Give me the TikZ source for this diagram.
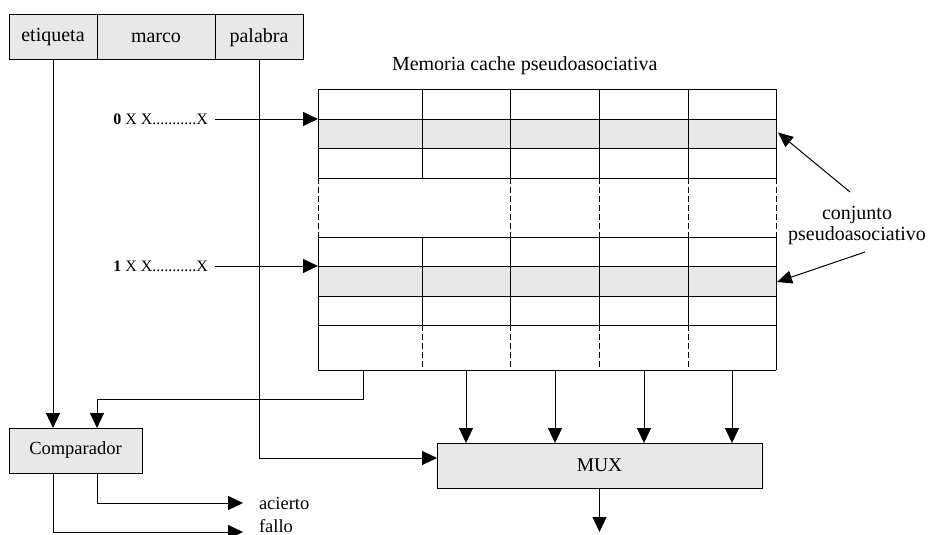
\documentclass[tikz,border=0pt]{standalone}
\usepackage{fontspec}
\setmainfont{Liberation Serif}
\usetikzlibrary{arrows.meta}
\definecolor{boxgray}{HTML}{E8E8E8}
\begin{document}
\begin{tikzpicture}[x=1pt,y=-1pt,
  every node/.style={inner sep=0pt, outer sep=0pt},
  box/.style={draw, line width=1pt, fill=boxgray, minimum height=45pt, anchor=north west},
  arr/.style={line width=1pt, -{Triangle[length=15pt,width=14pt]}},
  gl/.style={line width=1pt},
  gd/.style={line width=1pt, dash pattern=on 6pt off 3pt},
  fA/.style={font=\fontsize{20}{22}\selectfont},
  fB/.style={font=\fontsize{18.5}{20}\selectfont},
  fC/.style={font=\fontsize{16}{18}\selectfont},
  ]
\useasboundingbox (0,0) rectangle (929,535);

% top address fields
\node[box, fA, minimum width=88pt] (etq) at (9,15) {etiqueta};
\node[box, fA, minimum width=118pt] (mar) at (97,15) {marco};
\node[box, fA, minimum width=88pt] (pal) at (215,15) {palabra};

% cache title
\node[font=\fontsize{20}{22}\selectfont, anchor=west] (title) at (392,66) {Memoria cache pseudoasociativa};

% gray rows
\node[fill=boxgray, minimum width=458pt, minimum height=29pt, anchor=north west] (g0) at (318,119) {};
\node[fill=boxgray, minimum width=458pt, minimum height=30pt, anchor=north west] (g1) at (318,266) {};

% grid
\foreach \y in {89,119,148,178,237,266,296,325,370} \draw[gl] (318,\y) -- (776,\y);
\foreach \x in {318,422,510,599,688,776} {
  \draw[gl] (\x,89) -- (\x,178);
  \draw[gl] (\x,237) -- (\x,325);
}
\foreach \x in {318,776} \draw[gl] (\x,325) -- (\x,370);
\foreach \x in {318,510,599,688,776} \draw[gd] (\x,178) -- (\x,237);
\foreach \x in {422,510,599,688} \draw[gd] (\x,325) -- (\x,370);

% grid outlets
\coordinate (o0) at (363,370);
\coordinate (o1) at (466,370);
\coordinate (o2) at (555,370);
\coordinate (o3) at (644,370);
\coordinate (o4) at (732,370);

% input labels
\node[fC, anchor=east] (a0) at (208,119) {\textbf{0} X X...........X};
\node[fC, anchor=east] (a1) at (208,266) {\textbf{1} X X...........X};
\draw[arr] ([xshift=7pt]a0.east) -- (g0.north west);
\draw[arr] ([xshift=7pt]a1.east) -- (g1.north west);

% conjunto label
\node[fA, align=center] (cj) at (857,226) {conjunto\\[-1pt]pseudoasociativo};
\draw[line width=1pt, -{Triangle[length=15pt,width=13pt]}] (850,192) -- ([xshift=2pt,yshift=1pt]g0.east);
\draw[line width=1pt, -{Triangle[length=15pt,width=13pt]}] (865,252) -- ([xshift=1pt,yshift=-1pt]g1.east);

% comparator and mux
\node[box, font=\fontsize{18.5}{20}\selectfont, minimum width=133pt] (cmp) at (9,428) {Comparador};
\node[box, font=\fontsize{19.5}{21}\selectfont, minimum width=325pt] (mux) at (437,443) {MUX};

\draw[arr] (etq.south) -- (etq.south |- cmp.north);
\draw[arr] (o0) -- ++(0,29) -| ([xshift=21.5pt]cmp.north);
\draw[arr] (pal.south) |- ([yshift=7.5pt]mux.west);
\foreach \i in {1,2,3,4} \draw[arr] (o\i) -- (o\i |- mux.north);

% outputs
\node[fB, anchor=west] (ac) at (259,503) {acierto};
\node[fB, anchor=west] (fa) at (259,526) {fallo};
\draw[arr] ([xshift=21.5pt]cmp.south) |- ([xshift=-16pt]ac.west);
\draw[arr] ([xshift=-22.5pt]cmp.south) |- ([xshift=-16pt,yshift=-6pt]fa.west);
\draw[arr] (mux.south) -- ++(0,44);
\end{tikzpicture}
\end{document}
